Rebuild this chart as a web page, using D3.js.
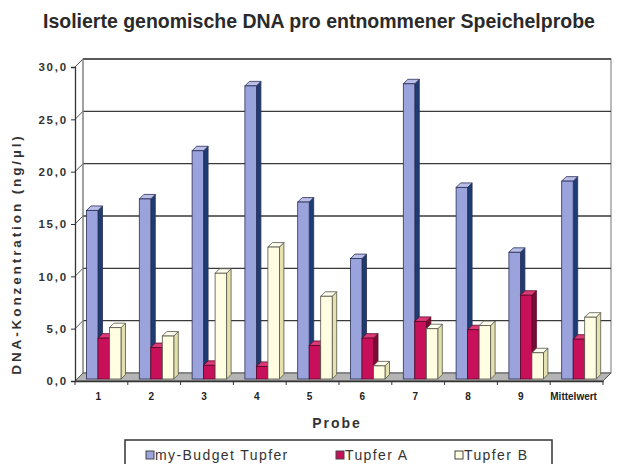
<!DOCTYPE html>
<html>
<head>
<meta charset="utf-8">
<script src="https://cdn.jsdelivr.net/npm/d3@7"></script>
<style>
  body { margin: 0; background: #fff; }
  svg { font-family: "Liberation Sans", Arial, sans-serif; }
</style>
</head>
<body>
<div id="chart"></div>
<script>
// chart data
var categories = ["1", "2", "3", "4", "5", "6", "7", "8", "9", "Mittelwert"];
var seriesNames = ["my-Budget Tupfer", "Tupfer A", "Tupfer B"];
var budget = [16.2, 17.3, 21.9, 28.1, 17.0, 11.6, 28.3, 18.4, 12.2, 19.0];
var tupferA = [4.0, 3.1, 1.4, 1.3, 3.3, 4.0, 5.6, 4.8, 8.1, 3.9];
var tupferB = [5.0, 4.2, 10.2, 12.7, 8.0, 1.35, 4.9, 5.2, 2.6, 6.0];
var yTicks = [0, 5, 10, 15, 20, 25, 30];

var seriesValues = [budget, tupferA, tupferB];
var colors = [
  {front: "#9ba3dc", top: "#b9bfe8", side: "#1e3c74", stroke: "#2a2f55"},
  {front: "#c8105a", top: "#dc3a76", side: "#7a0a36", stroke: "#5a0828"},
  {front: "#fffde2", top: "#fffff2", side: "#e4e0b0", stroke: "#555548"}
];

var svgWidth = 617, svgHeight = 464;
var depth = 8;      // wall depth
var barDepth = 4.5; // bar depth
var barW = 11.5;
var barOffset = 11.5;

var svg = d3.select("#chart")
  .append("svg")
  .attr("width", svgWidth)
  .attr("height", svgHeight);

// scales
var yScale = d3.scaleLinear()
  .domain([0, 30])
  .range([381, 67]);

var xScale = d3.scaleBand()
  .domain(categories)
  .range([75, 603]);

var x0 = xScale.range()[0], x1 = xScale.range()[1];
var yBase = yScale(0), yTop = yScale(30);

// back wall
svg.append("rect")
  .attr("x", x0 + depth)
  .attr("y", yTop - depth)
  .attr("width", x1 - x0)
  .attr("height", yBase - yTop)
  .attr("fill", "#fff")
  .attr("stroke", "#777")
  .attr("stroke-width", 1);

// gridlines on back wall + side wall diagonals
yTicks.forEach(function(t) {
  if (t === 0) return;
  svg.append("line")
    .attr("x1", x0 + depth).attr("x2", x1 + depth)
    .attr("y1", yScale(t) - depth).attr("y2", yScale(t) - depth)
    .attr("stroke", "#3a3a3a")
    .attr("stroke-width", 1.3);
  svg.append("line")
    .attr("x1", x0).attr("x2", x0 + depth)
    .attr("y1", yScale(t)).attr("y2", yScale(t) - depth)
    .attr("stroke", "#555")
    .attr("stroke-width", 1);
});

// left wall edge
svg.append("line")
  .attr("x1", x0 + depth).attr("x2", x0 + depth)
  .attr("y1", yTop - depth).attr("y2", yBase - depth)
  .attr("stroke", "#888");

// floor
svg.append("path")
  .attr("d", `M${x0},${yBase} L${x1},${yBase} L${x1 + depth},${yBase - depth} L${x0 + depth},${yBase - depth} Z`)
  .attr("fill", "#b4b4b4")
  .attr("stroke", "#555")
  .attr("stroke-width", 1);

// bars
var barBase = yBase - 2;
categories.forEach(function(cat, ci) {
  seriesValues.forEach(function(vals, si) {
    var c = colors[si];
    var x = xScale(cat) + barOffset + si * barW;
    var y = yScale(vals[ci]) - 1;
    var g = svg.append("g").attr("class", "bar");
    // side face
    g.append("path")
      .attr("d", `M${x + barW},${y} L${x + barW + barDepth},${y - barDepth} L${x + barW + barDepth},${barBase - barDepth} L${x + barW},${barBase} Z`)
      .attr("fill", c.side)
      .attr("stroke", c.stroke)
      .attr("stroke-width", 0.8);
    // top face
    g.append("path")
      .attr("d", `M${x},${y} L${x + barDepth},${y - barDepth} L${x + barW + barDepth},${y - barDepth} L${x + barW},${y} Z`)
      .attr("fill", c.top)
      .attr("stroke", c.stroke)
      .attr("stroke-width", 0.8);
    // front face
    g.append("rect")
      .attr("x", x)
      .attr("y", y)
      .attr("width", barW)
      .attr("height", barBase - y)
      .attr("fill", c.front)
      .attr("stroke", c.stroke)
      .attr("stroke-width", 0.8);
  });
});

// y axis
var yAxis = d3.axisLeft(yScale)
  .tickValues(yTicks)
  .tickSize(4)
  .tickFormat(d => d3.format(".1f")(d).replace(".", ","));

var yAxisG = svg.append("g")
  .attr("transform", `translate(${x0}, 0)`)
  .call(yAxis);
yAxisG.select(".domain").attr("stroke", "#333").attr("stroke-width", 1.3);
yAxisG.selectAll(".tick line").attr("stroke", "#333");
yAxisG.selectAll(".tick text")
  .attr("x", -7)
  .attr("font-family", "Liberation Sans, Arial, sans-serif")
  .attr("font-size", 11.5)
  .attr("font-weight", "bold")
  .attr("letter-spacing", 1.8)
  .attr("fill", "#333");

// x axis
var xAxis = d3.axisBottom(xScale)
  .tickSize(0)
  .tickPadding(12);

var xAxisG = svg.append("g")
  .attr("transform", `translate(0, ${yBase})`)
  .call(xAxis);
xAxisG.select(".domain").attr("stroke", "#333").attr("stroke-width", 1.3);
xAxisG.selectAll(".tick text")
  .attr("dx", -3)
  .attr("font-family", "Liberation Sans, Arial, sans-serif")
  .attr("font-size", 10)
  .attr("font-weight", "bold")
  .attr("fill", "#222");

// category separators on x axis
xAxisG.selectAll(".sep")
  .data(categories.concat(["end"]))
  .enter()
  .append("line")
  .attr("x1", (d, i) => x0 + i * xScale.step())
  .attr("x2", (d, i) => x0 + i * xScale.step())
  .attr("y1", 0)
  .attr("y2", 4)
  .attr("stroke", "#333");

// title
svg.append("text")
  .attr("x", 43)
  .attr("y", 28)
  .attr("font-size", 19.5)
  .attr("font-weight", "bold")
  .attr("fill", "#2a2a2a")
  .text("Isolierte genomische DNA pro entnommener Speichelprobe");

// axis titles
svg.append("text")
  .attr("x", 337)
  .attr("y", 428)
  .attr("text-anchor", "middle")
  .attr("font-size", 14)
  .attr("font-weight", "bold")
  .attr("letter-spacing", 2)
  .attr("fill", "#333")
  .text("Probe");

svg.append("text")
  .attr("transform", "rotate(-90)")
  .attr("x", -254)
  .attr("y", 21)
  .attr("text-anchor", "middle")
  .attr("font-size", 13.5)
  .attr("font-weight", "bold")
  .attr("letter-spacing", 2.9)
  .attr("fill", "#333")
  .text("DNA-Konzentration (ng/µl)");

// legend
svg.append("rect")
  .attr("x", 125)
  .attr("y", 440)
  .attr("width", 427)
  .attr("height", 28)
  .attr("fill", "#fff")
  .attr("stroke", "#333")
  .attr("stroke-width", 1.5);

var legendX = [146, 336, 455];
var legend = svg.selectAll(".legend")
  .data(seriesNames)
  .enter()
  .append("g")
  .attr("class", "legend")
  .attr("transform", (d, i) => `translate(${legendX[i]}, 451)`);

legend.append("rect")
  .attr("width", 8)
  .attr("height", 8)
  .attr("fill", (d, i) => colors[i].front)
  .attr("stroke", "#444")
  .attr("stroke-width", 1);

legend.append("text")
  .attr("x", 9)
  .attr("y", 9)
  .attr("font-size", 14)
  .attr("letter-spacing", 1.4)
  .attr("fill", "#333")
  .text(d => d);
</script>
</body>
</html>
